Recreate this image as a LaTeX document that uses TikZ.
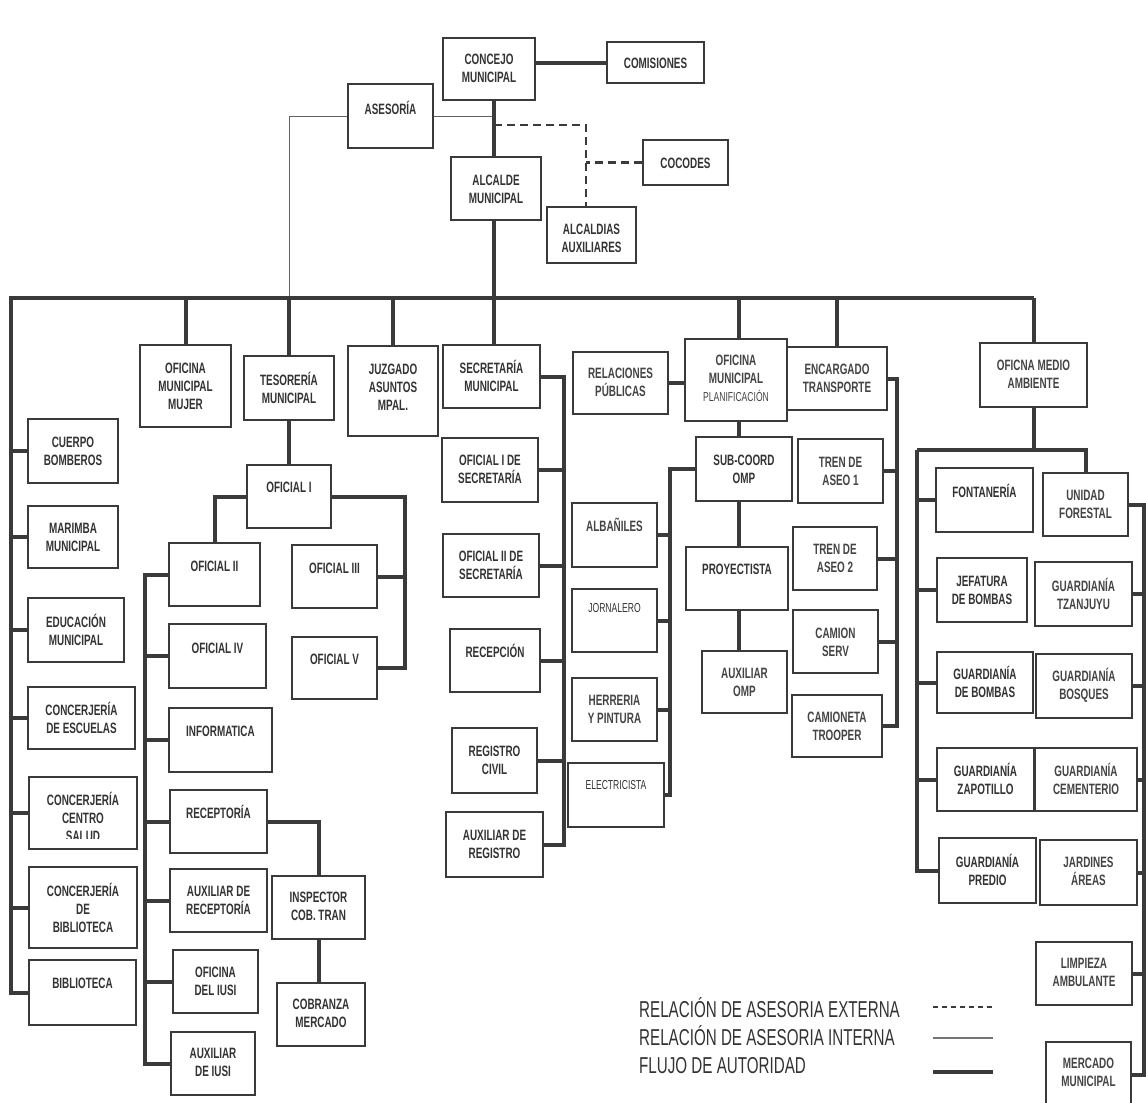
\documentclass[tikz,border=0pt]{standalone}
\usepackage{fontspec}
\newfontfamily\narrowsans[FakeStretch=0.66]{Liberation Sans}
\newcommand\boldlabelfont{\narrowsans\bfseries\fontsize{15}{18}\selectfont}
\newcommand\plainlabelfont{\narrowsans\bfseries\fontsize{15}{18}\selectfont}
\newcommand\smalllabelfont{\narrowsans\mdseries\fontsize{13}{18}\selectfont}
\newcommand\legendfont{\narrowsans\mdseries\fontsize{23}{28}\selectfont}
\definecolor{ink}{HTML}{333333}
\definecolor{softink}{HTML}{444444}
\definecolor{rule}{HTML}{3A3A3A}

% one box of the chart: name, label style, corners (x1,y1) (x2,y2), label y, label
\newcommand\orgbox[8]{%
  \node[unitbox, minimum width={#5-#3}, minimum height={#6-#4}] (#1) at ({(#3+#5)/2},{(#4+#6)/2}) {};
  \node[#2] (#1-t) at ({(#3+#5)/2},#7) {#8};
}

\tikzset{
  unitbox/.style={draw=rule, line width=1.6pt, fill=white, inner sep=0pt, rectangle},
  lblb/.style={text=ink, align=center, inner sep=0pt, font=\boldlabelfont},
  lblr/.style={text=softink, align=center, inner sep=0pt, font=\plainlabelfont},
  lbls/.style={text=ink, align=center, inner sep=0pt, font=\smalllabelfont},
  authline/.style={draw=rule, line width=4pt},
  intline/.style={draw=rule!80, line width=0.9pt},
  extline/.style={draw=rule, line width=2.6pt, dash pattern=on 8pt off 5pt},
  legendtext/.style={text=ink, inner sep=0pt, anchor=base west, font=\legendfont},
}

\begin{document}
\begin{tikzpicture}[x=1pt, y=-1pt]
\useasboundingbox (0,0) rectangle (1146,1103);
\fill[white] (0,0) rectangle (1146,1103);
\clip (0,0) rectangle (1146,1103);

% ---- top level ----
\orgbox{concejo}{lblb}{443}{38}{535}{100}{68}{CONCEJO\\MUNICIPAL}
\orgbox{comis}{lblb}{607}{42}{704}{83}{63}{COMISIONES}
\orgbox{ases}{lblb}{348}{84}{433}{148}{108}{ASESORÍA}
\orgbox{cocodes}{lblb}{643}{140}{728}{185}{163}{COCODES}
\orgbox{alcalde}{lblb}{451}{157}{541}{220}{189}{ALCALDE\\MUNICIPAL}
\orgbox{alcaux}{lblb}{547}{207}{636}{263}{238}{ALCALDIAS\\AUXILIARES}

% ---- departments ----
\orgbox{mujer}{lblb}{140}{345}{231}{427}{386}{OFICINA\\MUNICIPAL\\MUJER}
\orgbox{tes}{lblb}{244}{356}{334}{420}{388}{TESORERÍA\\MUNICIPAL}
\orgbox{juz}{lblb}{348}{346}{438}{436}{387}{JUZGADO\\ASUNTOS\\MPAL.}
\orgbox{sec}{lblb}{443}{345}{540}{408}{376}{SECRETARÍA\\MUNICIPAL}
\orgbox{rel}{lblr}{573}{352}{668}{414}{382}{RELACIONES\\PÚBLICAS}
\orgbox{planif}{lblr}{685}{339}{787}{421}{378}{OFICINA\\MUNICIPAL\\{\smalllabelfont PLANIFICACIÓN}}
\orgbox{enc}{lblr}{787}{347}{887}{410}{378}{ENCARGADO\\TRANSPORTE}
\orgbox{ma}{lblr}{980}{343}{1087}{407}{374}{OFICNA MEDIO\\AMBIENTE}

% ---- left column ----
\orgbox{bomb}{lblb}{28}{419}{118}{483}{451}{CUERPO\\BOMBEROS}
\orgbox{marimba}{lblb}{28}{506}{118}{568}{537}{MARIMBA\\MUNICIPAL}
\orgbox{educ}{lblb}{28}{598}{124}{662}{630}{EDUCACIÓN\\MUNICIPAL}
\orgbox{cesc}{lblb}{28}{687}{135}{749}{718}{CONCERJERÍA\\DE ESCUELAS}
\orgbox{csalud}{lblb}{29}{777}{137}{849}{817}{}
\begin{scope}
  \clip (29,780) rectangle (137,838);
  \node[lblb] (csalud-label) at (83,817) {CONCERJERÍA\\CENTRO\\SALUD};
\end{scope}
\orgbox{cbib}{lblb}{29}{867}{137}{948}{908}{CONCERJERÍA\\DE\\BIBLIOTECA}
\orgbox{biblio}{lblb}{29}{960}{136}{1025}{983}{BIBLIOTECA}

% ---- treasury ----
\orgbox{ofi}{lblb}{247}{465}{331}{528}{487}{OFICIAL I}
\orgbox{ofii}{lblb}{169}{543}{260}{606}{566}{OFICIAL II}
\orgbox{ofiii}{lblb}{292}{545}{377}{608}{568}{OFICIAL III}
\orgbox{ofiv}{lblb}{169}{624}{266}{688}{648}{OFICIAL IV}
\orgbox{ofv}{lblb}{292}{637}{377}{699}{659}{OFICIAL V}
\orgbox{inf}{lblb}{169}{708}{272}{772}{731}{INFORMATICA}
\orgbox{recep}{lblb}{170}{790}{267}{853}{812}{RECEPTORÍA}
\orgbox{auxrec}{lblb}{170}{869}{267}{932}{900}{AUXILIAR DE\\RECEPTORÍA}
\orgbox{insp}{lblb}{272}{876}{365}{939}{906}{INSPECTOR\\COB. TRAN}
\orgbox{cobr}{lblb}{277}{983}{365}{1046}{1013}{COBRANZA\\MERCADO}
\orgbox{iusi}{lblb}{173}{950}{258}{1013}{981}{OFICINA\\DEL IUSI}
\orgbox{auxiusi}{lblb}{171}{1032}{255}{1095}{1062}{AUXILIAR\\DE IUSI}

% ---- secretariat ----
\orgbox{ofisec}{lblb}{442}{438}{538}{502}{469}{OFICIAL I DE\\SECRETARÍA}
\orgbox{ofiisec}{lblb}{443}{534}{539}{597}{565}{OFICIAL II DE\\SECRETARÍA}
\orgbox{recepc}{lblb}{450}{629}{540}{692}{651}{RECEPCIÓN}
\orgbox{regciv}{lblb}{452}{728}{537}{793}{760}{REGISTRO\\CIVIL}
\orgbox{auxreg}{lblb}{446}{812}{543}{877}{844}{AUXILIAR DE\\REGISTRO}

% ---- planning office ----
\orgbox{subc}{lblb}{696}{437}{792}{501}{469}{SUB-COORD\\OMP}
\orgbox{alb}{lblr}{572}{503}{657}{567}{525}{ALBAÑILES}
\orgbox{jorn}{lbls}{572}{589}{657}{652}{608}{JORNALERO}
\orgbox{herr}{lblr}{572}{678}{657}{741}{709}{HERRERIA\\Y PINTURA}
\orgbox{elec}{lbls}{568}{763}{664}{827}{785}{ELECTRICISTA}
\orgbox{proy}{lblb}{686}{547}{788}{610}{569}{PROYECTISTA}
\orgbox{auxomp}{lblr}{702}{651}{787}{713}{682}{AUXILIAR\\OMP}

% ---- transport ----
\orgbox{tren1}{lblr}{798}{439}{883}{503}{471}{TREN DE\\ASEO 1}
\orgbox{tren2}{lblr}{793}{527}{877}{590}{558}{TREN DE\\ASEO 2}
\orgbox{camion}{lblr}{793}{610}{878}{673}{642}{CAMION\\SERV}
\orgbox{troop}{lblr}{792}{695}{882}{757}{726}{CAMIONETA\\TROOPER}

% ---- environment office ----
\orgbox{fonta}{lblb}{936}{468}{1033}{532}{491}{FONTANERÍA}
\orgbox{uf}{lblr}{1043}{473}{1128}{536}{504}{UNIDAD\\FORESTAL}
\orgbox{jef}{lblb}{937}{558}{1027}{622}{590}{JEFATURA\\DE BOMBAS}
\orgbox{tzan}{lblr}{1035}{562}{1132}{626}{594}{GUARDIANÍA\\TZANJUYU}
\orgbox{gbomb}{lblb}{937}{652}{1033}{713}{682}{GUARDIANÍA\\DE BOMBAS}
\orgbox{bosq}{lblr}{1036}{654}{1132}{718}{685}{GUARDIANÍA\\BOSQUES}
\orgbox{zap}{lblb}{937}{748}{1034}{811}{779}{GUARDIANÍA\\ZAPOTILLO}
\orgbox{cem}{lblr}{1035}{748}{1137}{811}{779}{GUARDIANÍA\\CEMENTERIO}
\orgbox{pred}{lblb}{939}{838}{1036}{903}{870}{GUARDIANÍA\\PREDIO}
\orgbox{jard}{lblr}{1040}{840}{1137}{905}{871}{JARDINES\\ÁREAS}
\orgbox{limp}{lblr}{1036}{942}{1132}{1005}{972}{LIMPIEZA\\AMBULANTE}
\orgbox{merc}{lblr}{1046}{1042}{1131}{1108}{1072}{MERCADO\\MUNICIPAL}

% ---- helper coordinates for trunks and combs ----
\coordinate (busL) at (11,298);
\coordinate (tr) at (494,0);
\coordinate (dA) at (494,125);
\coordinate (dcol) at (586,0);
\coordinate (tR) at (405,0);
\coordinate (tcol) at (145,0);
\coordinate (scol) at (564,0);
\coordinate (pcol) at (739,0);
\coordinate (ocol) at (670,0);
\coordinate (ecol) at (897,0);
\coordinate (mL) at (917,450);
\coordinate (mcol) at (1144,0);

% ---- internal advisory ----
\draw[intline] (ases.east) -- (ases.east -| tr);
\draw[intline] (ases.west) -| (tes.north |- busL);

% ---- external advisory ----
\draw[extline] (dA) -| (dcol |- alcaux.north);
\draw[extline] (cocodes.west) -- (cocodes.west -| dcol);

% ---- authority: top ----
\draw[authline] (comis.west -| concejo.east) -- (comis.west);
\draw[authline] (tr |- concejo.south) -- (tr |- alcalde.north);
\draw[authline] (tr |- alcalde.south) -- (tr |- sec.north);

% main bus and left column
\draw[authline] (busL -| ma.north) -- (busL) |- (biblio.west);
\foreach \n in {bomb,marimba,educ,cesc,csalud,cbib}
  \draw[authline] (\n.west) -- (\n.west -| busL);
\foreach \n in {mujer,tes,juz,enc,ma}
  \draw[authline] (\n.north) -- (\n.north |- busL);
\draw[authline] (pcol |- busL) -- (pcol |- planif.north);

% treasury
\draw[authline] (tes.south) -- (ofi.north);
\draw[authline] (ofi.west) -| (ofii.north);
\draw[authline] (ofi.east) -| (tR |- ofv.east) -- (ofv.east);
\draw[authline] (ofiii.east) -- (ofiii.east -| tR);
\draw[authline] (ofii.west) -| (tcol |- auxiusi.west) -- (auxiusi.west);
\foreach \n in {ofiv,inf,recep,auxrec,iusi}
  \draw[authline] (\n.west) -- (\n.west -| tcol);
\draw[authline] (recep.east) -| (insp.north);
\draw[authline] (insp.south) -- (insp.south |- cobr.north);

% secretariat
\draw[authline] (sec.east) -| (scol |- auxreg.east) -- (auxreg.east);
\foreach \n in {ofisec,ofiisec,recepc,regciv}
  \draw[authline] (\n.east) -- (\n.east -| scol);

% planning office
\draw[authline] (rel.east) -- (rel.east -| planif.west);
\draw[authline] (pcol |- planif.south) -- (pcol |- subc.north);
\draw[authline] (pcol |- subc.south) -- (pcol |- proy.north);
\draw[authline] (pcol |- proy.south) -- (pcol |- auxomp.north);
\draw[authline] (subc.west) -| (ocol |- elec.east) -- (elec.east);
\foreach \n in {alb,jorn,herr}
  \draw[authline] (\n.east) -- (\n.east -| ocol);

% transport
\draw[authline] (enc.east) -| (ecol |- troop.east) -- (troop.east);
\foreach \n in {tren1,tren2,camion}
  \draw[authline] (\n.east) -- (\n.east -| ecol);

% environment office
\draw[authline] (ma.south) -- (ma.south |- mL);
\draw[authline] (mL) -| (uf.north);
\draw[authline] (mL) |- (pred.west);
\foreach \n in {fonta,jef,gbomb,zap}
  \draw[authline] (\n.west) -- (\n.west -| mL);
\draw[authline] (uf.east) -| (mcol |- merc.east) -- (merc.east);
\foreach \n in {tzan,bosq,cem,jard,limp}
  \draw[authline] (\n.east) -- (\n.east -| mcol);

% ---- legend ----
\node[legendtext] (lgext) at (639,1017) {RELACIÓN DE ASESORIA EXTERNA};
\node[legendtext] (lgint) at (639,1045) {RELACIÓN DE ASESORIA INTERNA};
\node[legendtext] (lgauth) at (639,1073) {FLUJO DE AUTORIDAD};
\coordinate (le1) at (933,1007);
\coordinate (le2) at (993,1007);
\coordinate (li1) at (933,1038);
\coordinate (li2) at (993,1038);
\coordinate (la1) at (933,1072);
\coordinate (la2) at (993,1072);
\draw[draw=rule, line width=2.2pt, dash pattern=on 5pt off 4pt] (le1) -- (le2);
\draw[draw=rule!70, line width=1.4pt] (li1) -- (li2);
\draw[authline] (la1) -- (la2);
\end{tikzpicture}
\end{document}
